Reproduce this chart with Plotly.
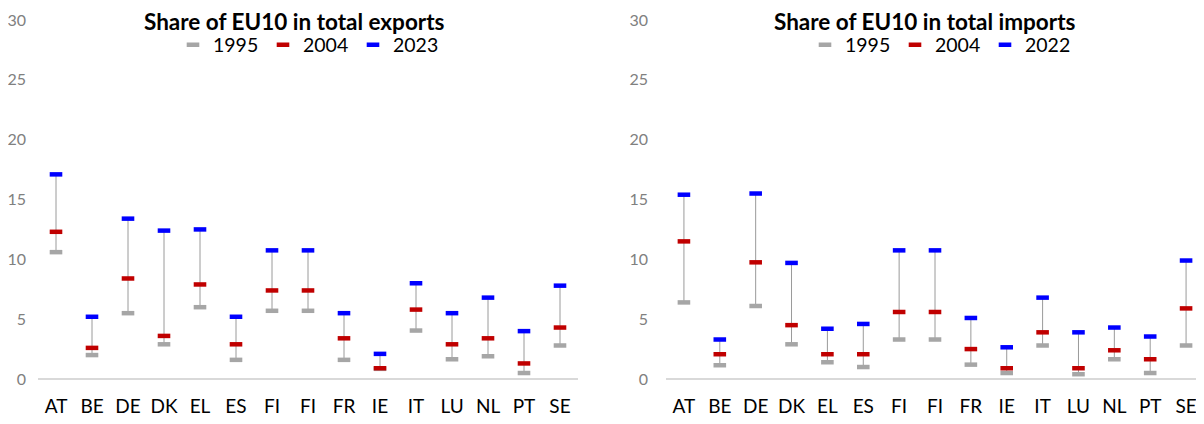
import plotly.graph_objects as go

countries = ["AT", "BE", "DE", "DK", "EL", "ES", "FI", "FI", "FR", "IE", "IT", "LU", "NL", "PT", "SE"]

exp_1995 = [10.6, 2.0, 5.5, 2.9, 6.0, 1.6, 5.7, 5.7, 1.6, 0.85, 4.05, 1.65, 1.9, 0.5, 2.8]
exp_2004 = [12.3, 2.6, 8.4, 3.6, 7.9, 2.9, 7.4, 7.4, 3.4, 0.9, 5.8, 2.9, 3.4, 1.3, 4.3]
exp_2023 = [17.1, 5.2, 13.4, 12.4, 12.5, 5.2, 10.75, 10.75, 5.5, 2.1, 8.0, 5.5, 6.8, 4.0, 7.8]

imp_1995 = [6.4, 1.15, 6.1, 2.9, 1.4, 1.0, 3.3, 3.3, 1.2, 0.5, 2.8, 0.4, 1.65, 0.5, 2.8]
imp_2004 = [11.5, 2.07, 9.75, 4.5, 2.07, 2.07, 5.6, 5.6, 2.5, 0.9, 3.9, 0.9, 2.4, 1.65, 5.9]
imp_2022 = [15.4, 3.3, 15.5, 9.7, 4.2, 4.6, 10.75, 10.75, 5.1, 2.65, 6.8, 3.9, 4.3, 3.55, 9.9]

y_ticks = [0, 5, 10, 15, 20, 25, 30]

GRAY = "#a6a6a6"
RED = "#c00000"
BLUE = "#0000ff"
FONT = "Lato, 'Open Sans', sans-serif"

fig = go.Figure()
xs = list(range(len(countries)))


def add_panel(xa, ya, legend, series, names):
    lo = [min(v) for v in zip(*series)]
    hi = [max(v) for v in zip(*series)]
    lx, ly = [], []
    for i, a, b in zip(xs, lo, hi):
        lx += [i, i, None]
        ly += [a, b, None]
    fig.add_trace(go.Scatter(x=lx, y=ly, mode="lines", line=dict(color="#9a9a9a", width=1),
                             xaxis=xa, yaxis=ya, showlegend=False, hoverinfo="skip"))
    for vals, name, col in zip(series, names, [GRAY, RED, BLUE]):
        fig.add_trace(go.Scatter(
            x=xs, y=vals, mode="markers", name=name, xaxis=xa, yaxis=ya, legend=legend,
            marker=dict(symbol="line-ew", size=9, color=col, line=dict(color=col, width=4.5)),
        ))


add_panel("x", "y", "legend", [exp_1995, exp_2004, exp_2023], ["1995", "2004", "2023"])
add_panel("x2", "y2", "legend2", [imp_1995, imp_2004, imp_2022], ["1995", "2004", "2022"])

# the page has an 8px body margin, so the figure sits at (8, 8) in the window
OFF = 8
W, H = 1204 - OFF, 424 - OFF


def px(p):
    return (p - OFF) / W


def py(p):
    return 1 - (p - OFF) / H


ydom = [py(379), py(20)]

xcommon = dict(range=[-0.5, len(countries) - 0.5], tickvals=xs, ticktext=countries,
               showgrid=False, zeroline=False, showline=False, ticks="", automargin=False,
               ticklabelstandoff=14, tickfont=dict(family=FONT, size=19, color="#000000"))
ycommon = dict(range=[0, 30], tickvals=y_ticks, showgrid=False, zeroline=True, automargin=False,
               zerolinecolor="#d9d9d9", zerolinewidth=2, showline=False, ticks="",
               tickfont=dict(family=FONT, size=16, color="#808080"), domain=ydom)

legcommon = dict(orientation="h", xanchor="left", y=py(45), yanchor="middle", entrywidth=45,
                 font=dict(family=FONT, size=19.5, color="#000000"), itemwidth=30,
                 bgcolor="rgba(0,0,0,0)")

title_font = dict(family=FONT, size=22.5, color="#000000")

fig.update_layout(
    width=W, height=H, margin=dict(l=0, r=0, t=0, b=0, autoexpand=False),
    plot_bgcolor="white", paper_bgcolor="white",
    font=dict(family=FONT),
    xaxis=dict(domain=[px(38), px(578)], anchor="y", **xcommon),
    xaxis2=dict(domain=[px(666), 1.0], anchor="y2", **xcommon),
    yaxis=dict(anchor="x", ticklabelstandoff=11, **ycommon),
    yaxis2=dict(anchor="x2", ticklabelstandoff=17, **ycommon),
    legend=dict(x=px(173), **legcommon),
    legend2=dict(x=px(805), **legcommon),
    annotations=[
        dict(text="<b>Share of EU10 in total exports</b>", x=px(294.5), y=py(21), xref="paper", yref="paper",
             xanchor="center", yanchor="middle", showarrow=False, font=title_font),
        dict(text="<b>Share of EU10 in total imports</b>", x=px(925), y=py(21), xref="paper", yref="paper",
             xanchor="center", yanchor="middle", showarrow=False, font=title_font),
    ],
)

fig.write_html("out.html")
